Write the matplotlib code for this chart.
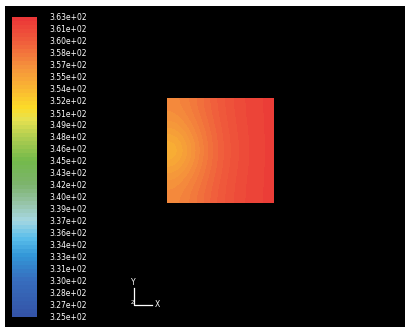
import numpy as np
import matplotlib
matplotlib.use("Agg")
import matplotlib.pyplot as plt
from matplotlib.colors import LinearSegmentedColormap, BoundaryNorm

# colour scale (K)
t_min = 325.0
t_max = 363.0
n_labels = 26
n_bands = 75

temp_grid = [
    [357.2, 358.2, 359.6, 360.8, 361.6, 362.1],
    [355.8, 357.3, 359.1, 360.6, 361.5, 362.1],
    [353.8, 356.4, 358.8, 360.4, 361.4, 362.1],
    [355.8, 357.3, 359.1, 360.6, 361.5, 362.1],
    [357.2, 358.2, 359.6, 360.8, 361.6, 362.1],
]

# fluent-like colour ramp, bottom -> top
ramp_pos = [0.0, 0.12, 0.2, 0.26, 0.32, 0.38, 0.44, 0.52, 0.6, 0.66, 0.7, 0.76, 0.84, 0.92, 1.0]
ramp_rgb = [(52, 84, 168), (55, 110, 190), (50, 150, 215), (90, 190, 235), (165, 215, 225),
            (150, 195, 165), (125, 180, 110), (115, 185, 75), (175, 205, 80), (230, 225, 80),
            (252, 220, 40), (250, 185, 50), (245, 145, 60), (240, 95, 60), (235, 55, 55)]

W, H = 406, 327
fig = plt.figure(figsize=(W / 100, H / 100), dpi=100, facecolor="white")

def rect(x0, y0, x1, y1):
    return [x0 / W, 1 - y1 / H, (x1 - x0) / W, (y1 - y0) / H]

# black viewport
bg = fig.add_axes(rect(5, 6, W, H))
bg.set_facecolor("black")
bg.set_xticks([])
bg.set_yticks([])
for s in bg.spines.values():
    s.set_visible(False)

cmap = LinearSegmentedColormap.from_list(
    "fluent", list(zip(ramp_pos, [tuple(c / 255 for c in rgb) for rgb in ramp_rgb])))
cmap = cmap.resampled(n_bands)
norm = BoundaryNorm(np.linspace(t_min, t_max, n_bands + 1), n_bands)
tick_vals = np.linspace(t_min, t_max, n_labels)

# contour square
ax = fig.add_axes(rect(167, 98, 274, 203))
ax.imshow(np.array(temp_grid), cmap=cmap, norm=norm, interpolation="bicubic",
          interpolation_stage="data", aspect="auto", extent=(0, 1, 0, 1))
ax.axis("off")

# colour bar
cax = fig.add_axes(rect(12, 17, 37, 317))
sm = plt.cm.ScalarMappable(norm=norm, cmap=cmap)
cb = fig.colorbar(sm, cax=cax, ticks=tick_vals)
cb.outline.set_visible(False)
cax.set_yticklabels(["%.2e" % v for v in tick_vals])
cax.tick_params(length=0, pad=9, labelsize=5.5, labelcolor="white")

# axis triad
tri = fig.add_axes(rect(125, 275, 170, 312))
tri.set_xlim(125, 170)
tri.set_ylim(312, 275)
tri.axis("off")
tri.plot([134, 134, 152], [288, 305, 305], color="white", lw=0.9)
tri.text(133.5, 283, "Y", color="white", fontsize=5.5, ha="center", va="center")
tri.text(157, 305, "X", color="white", fontsize=5.5, ha="center", va="center")
tri.text(133, 303, "Z", color="white", fontsize=4.5, ha="center", va="center")

fig.savefig("out.png", dpi=100, facecolor="white")
